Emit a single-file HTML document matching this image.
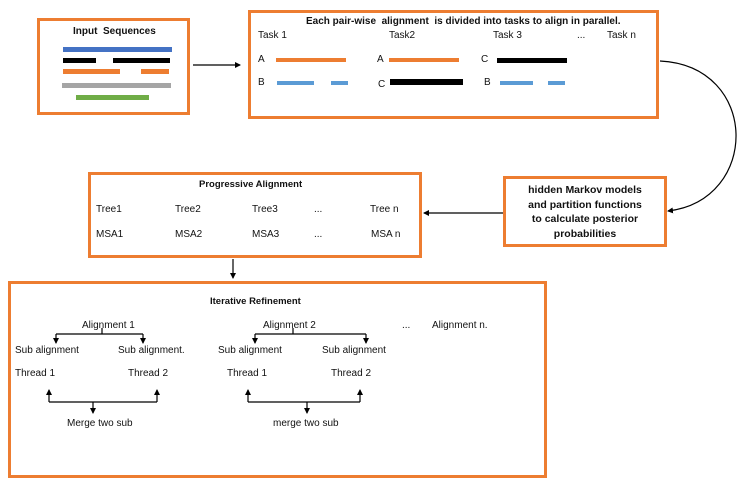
<!DOCTYPE html>
<html><head><style>
body{margin:0;width:747px;height:488px;background:#fff;overflow:hidden;font-family:"Liberation Sans",sans-serif;}
.b{position:absolute;border:3px solid #ED7D31;box-sizing:border-box;background:#fff;}
.t{position:absolute;font-size:10px;color:#111;white-space:nowrap;line-height:12px;}
.bar{position:absolute;}
</style></head><body>
<div class="b" style="left:37px;top:18px;width:153px;height:97px"></div>
<div class="b" style="left:248px;top:10px;width:411px;height:109px"></div>
<div class="b" style="left:88px;top:172px;width:334px;height:86px"></div>
<div class="b" style="left:503px;top:176px;width:164px;height:71px"></div>
<div class="b" style="left:8px;top:281px;width:539px;height:197px"></div>

<div class="t" style="left:73px;top:26px;font-weight:bold">Input&nbsp; Sequences</div>
<div class="bar" style="left:63px;top:47px;width:109px;height:5px;background:#4472C4"></div>
<div class="bar" style="left:63px;top:58px;width:33px;height:5px;background:#000"></div>
<div class="bar" style="left:113px;top:58px;width:57px;height:5px;background:#000"></div>
<div class="bar" style="left:63px;top:69px;width:57px;height:5px;background:#ED7D31"></div>
<div class="bar" style="left:141px;top:69px;width:28px;height:5px;background:#ED7D31"></div>
<div class="bar" style="left:62px;top:83px;width:109px;height:5px;background:#A5A5A5"></div>
<div class="bar" style="left:76px;top:95px;width:73px;height:5px;background:#70AD47"></div>

<div class="t" style="left:306px;top:16px;font-weight:bold">Each pair-wise&nbsp; alignment&nbsp; is divided into tasks to align in parallel.</div>
<div class="t" style="left:258px;top:30px">Task 1</div>
<div class="t" style="left:389px;top:30px">Task2</div>
<div class="t" style="left:493px;top:30px">Task 3</div>
<div class="t" style="left:577px;top:30px">...</div>
<div class="t" style="left:607px;top:30px">Task n</div>
<div class="t" style="left:258px;top:54px">A</div>
<div class="bar" style="left:276px;top:58px;width:70px;height:4px;background:#ED7D31"></div>
<div class="t" style="left:377px;top:54px">A</div>
<div class="bar" style="left:389px;top:58px;width:70px;height:4px;background:#ED7D31"></div>
<div class="t" style="left:481px;top:54px">C</div>
<div class="bar" style="left:497px;top:58px;width:70px;height:5px;background:#000"></div>
<div class="t" style="left:258px;top:77px">B</div>
<div class="bar" style="left:277px;top:81px;width:37px;height:4px;background:#5B9BD5"></div>
<div class="bar" style="left:331px;top:81px;width:17px;height:4px;background:#5B9BD5"></div>
<div class="t" style="left:378px;top:79px">C</div>
<div class="bar" style="left:390px;top:79px;width:73px;height:6px;background:#000"></div>
<div class="t" style="left:484px;top:77px">B</div>
<div class="bar" style="left:500px;top:81px;width:33px;height:4px;background:#5B9BD5"></div>
<div class="bar" style="left:548px;top:81px;width:17px;height:4px;background:#5B9BD5"></div>

<div class="t" style="left:199px;top:179px;font-weight:bold;font-size:9.5px">Progressive Alignment</div>
<div class="t" style="left:96px;top:204px">Tree1</div>
<div class="t" style="left:175px;top:204px">Tree2</div>
<div class="t" style="left:252px;top:204px">Tree3</div>
<div class="t" style="left:314px;top:204px">...</div>
<div class="t" style="left:370px;top:204px">Tree n</div>
<div class="t" style="left:96px;top:229px">MSA1</div>
<div class="t" style="left:175px;top:229px">MSA2</div>
<div class="t" style="left:252px;top:229px">MSA3</div>
<div class="t" style="left:314px;top:229px">...</div>
<div class="t" style="left:371px;top:229px">MSA n</div>

<div class="t" style="left:506px;top:183px;width:158px;text-align:center;font-weight:bold;font-size:10.5px;line-height:14.5px">hidden Markov models<br>and partition functions<br>to calculate posterior<br>probabilities</div>

<div class="t" style="left:210px;top:296px;font-weight:bold;font-size:9.5px">Iterative Refinement</div>
<div class="t" style="left:82px;top:320px">Alignment 1</div>
<div class="t" style="left:263px;top:320px">Alignment 2</div>
<div class="t" style="left:402px;top:320px">...</div>
<div class="t" style="left:432px;top:320px">Alignment n.</div>
<div class="t" style="left:15px;top:345px">Sub alignment</div>
<div class="t" style="left:118px;top:345px">Sub alignment.</div>
<div class="t" style="left:218px;top:345px">Sub alignment</div>
<div class="t" style="left:322px;top:345px">Sub alignment</div>
<div class="t" style="left:15px;top:368px">Thread 1</div>
<div class="t" style="left:128px;top:368px">Thread 2</div>
<div class="t" style="left:227px;top:368px">Thread 1</div>
<div class="t" style="left:331px;top:368px">Thread 2</div>
<div class="t" style="left:67px;top:418px">Merge two sub</div>
<div class="t" style="left:273px;top:418px">merge two sub</div>

<svg width="747" height="488" style="position:absolute;left:0;top:0" fill="none" stroke="#000" stroke-width="1.2">
<defs><marker id="a" markerWidth="6" markerHeight="6" refX="5" refY="3" orient="auto" markerUnits="userSpaceOnUse"><path d="M0,0L6,3L0,6z" fill="#000" stroke="none"/></marker></defs>
<line x1="193" y1="65" x2="240" y2="65" marker-end="url(#a)"/>
<path d="M660,61 C760,66 760,200 668,211" marker-end="url(#a)"/>
<line x1="503" y1="213" x2="424" y2="213" marker-end="url(#a)"/>
<line x1="233" y1="259" x2="233" y2="278" marker-end="url(#a)"/>
<path d="M102,328V334M56,334H143"/>
<line x1="56" y1="334" x2="56" y2="343" marker-end="url(#a)"/>
<line x1="143" y1="334" x2="143" y2="343" marker-end="url(#a)"/>
<path d="M293,328V334M255,334H366"/>
<line x1="255" y1="334" x2="255" y2="343" marker-end="url(#a)"/>
<line x1="366" y1="334" x2="366" y2="343" marker-end="url(#a)"/>
<path d="M49,402H157"/>
<line x1="49" y1="402" x2="49" y2="390" marker-end="url(#a)"/>
<line x1="157" y1="402" x2="157" y2="390" marker-end="url(#a)"/>
<line x1="93" y1="402" x2="93" y2="413" marker-end="url(#a)"/>
<path d="M248,402H360"/>
<line x1="248" y1="402" x2="248" y2="390" marker-end="url(#a)"/>
<line x1="360" y1="402" x2="360" y2="390" marker-end="url(#a)"/>
<line x1="307" y1="402" x2="307" y2="413" marker-end="url(#a)"/>
</svg>
</body></html>
